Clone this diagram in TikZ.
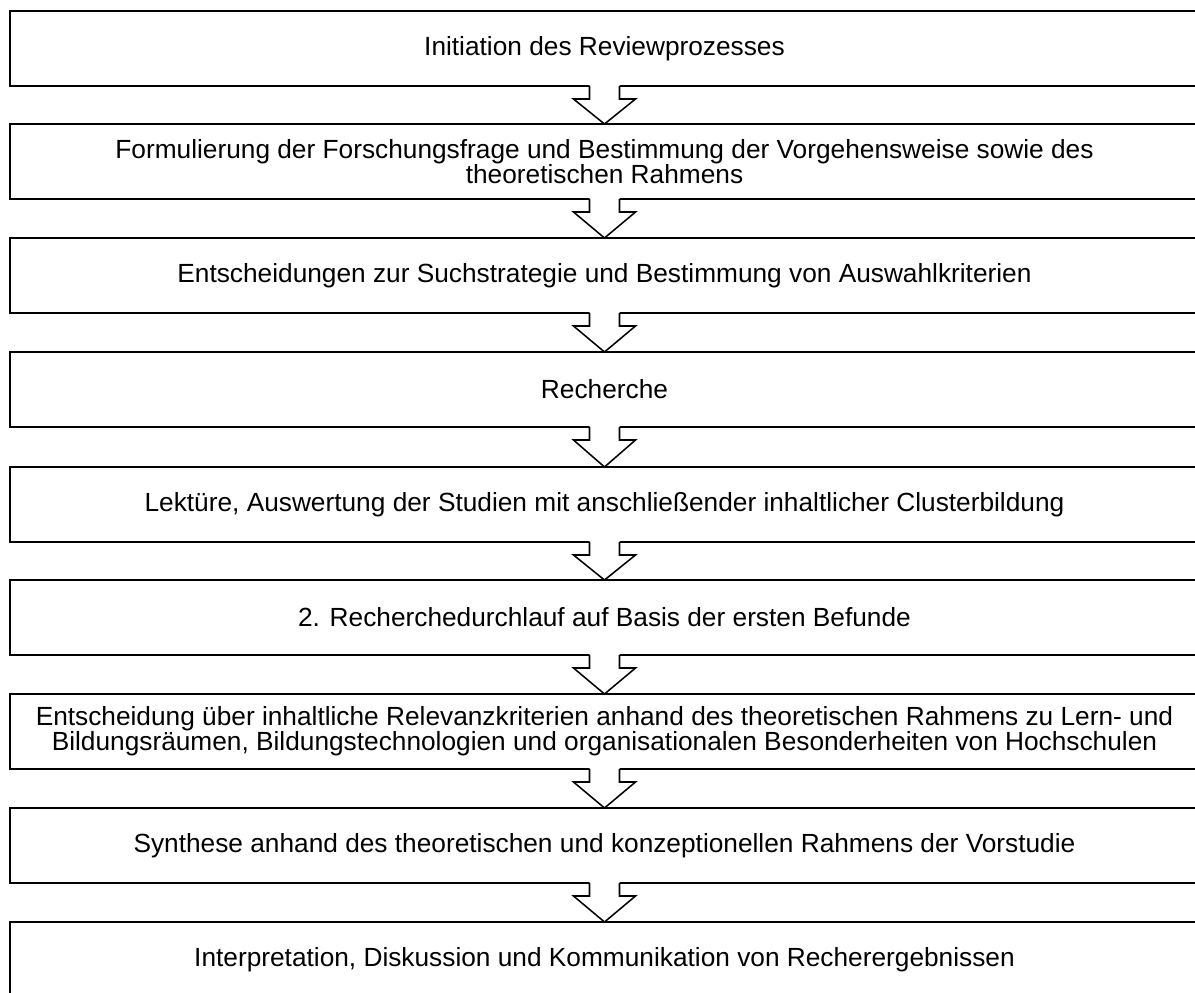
\documentclass[tikz,border=0pt]{standalone}
\usepackage{fontspec}
\setmainfont{Liberation Sans}
\usetikzlibrary{calc}
\tikzset{
  stepbox/.style={draw, line width=1.5pt, minimum width=891.75pt, minimum height=56.25pt,
    inner sep=0pt, outer sep=0pt, align=center, font=\fontsize{19.7}{18.75}\selectfont},
  arrowline/.style={line width=1.15pt, line join=miter},
}
\newcommand\flowarrow[2]{%
  \fill[white] ($(#1.south)+(-15,-2)$) -- ($(#1.south)+(-15,13)$) -- ($(#1.south)+(-31,13)$)
    -- (#2.north) -- ($(#1.south)+(31,13)$) -- ($(#1.south)+(15,13)$) -- ($(#1.south)+(15,-2)$) -- cycle;
  \draw[arrowline] ($(#1.south)+(-15,0)$) -- ($(#1.south)+(-15,13)$) -- ($(#1.south)+(-31,13)$)
    -- (#2.north) -- ($(#1.south)+(31,13)$) -- ($(#1.south)+(15,13)$) -- ($(#1.south)+(15,0)$);
}
\begin{document}
\begin{tikzpicture}[x=0.75pt,y=-0.75pt]
\useasboundingbox (0,0) rectangle (1195,992);
\fill[white] (0,0) rectangle (1195,992);
\clip (0,0) rectangle (1195,992);
\node[stepbox] (b1) at (604.5,48.5) {Initiation des Reviewprozesses};
\node[stepbox] (b2) at (604.5,161.5) {Formulierung der Forschungsfrage und Bestimmung der Vorgehensweise sowie des\\theoretischen Rahmens};
\node[stepbox] (b3) at (604.5,275.5) {Entscheidungen zur Suchstrategie und Bestimmung von Auswahlkriterien};
\node[stepbox] (b4) at (604.5,389.5) {Recherche};
\node[stepbox] (b5) at (604.5,504.5) {Lektüre, Auswertung der Studien mit anschließender inhaltlicher Clusterbildung};
\node[stepbox] (b6) at (604.5,617.5) {2. Recherchedurchlauf auf Basis der ersten Befunde};
\node[stepbox] (b7) at (604.5,731.5) {Entscheidung über inhaltliche Relevanzkriterien anhand des theoretischen Rahmens zu Lern- und\\Bildungsräumen, Bildungstechnologien und organisationalen Besonderheiten von Hochschulen};
\node[stepbox] (b8) at (604.5,845.5) {Synthese anhand des theoretischen und konzeptionellen Rahmens der Vorstudie};
\node[stepbox] (b9) at (604.5,959.5) {Interpretation, Diskussion und Kommunikation von Recherergebnissen};
\flowarrow{b1}{b2}
\flowarrow{b2}{b3}
\flowarrow{b3}{b4}
\flowarrow{b4}{b5}
\flowarrow{b5}{b6}
\flowarrow{b6}{b7}
\flowarrow{b7}{b8}
\flowarrow{b8}{b9}
\end{tikzpicture}
\end{document}
